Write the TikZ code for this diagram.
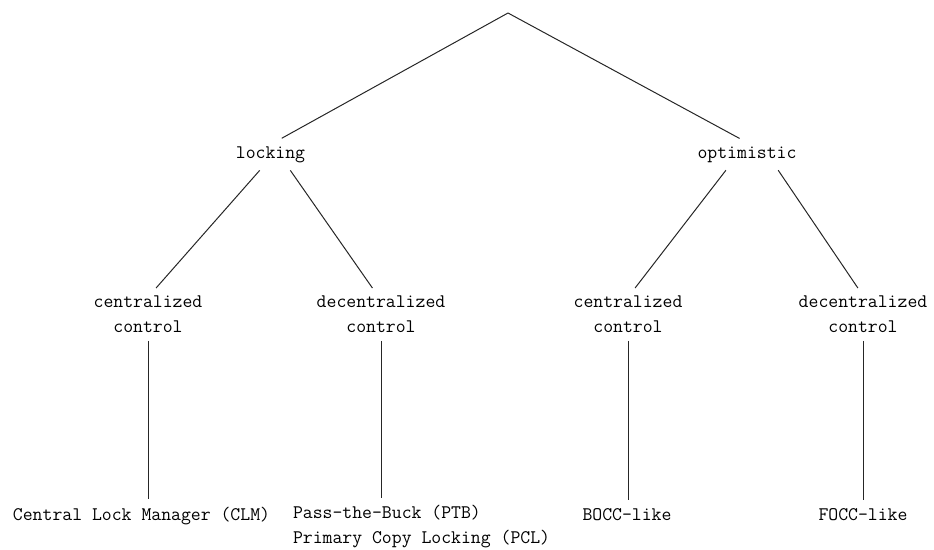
\documentclass[tikz,border=0pt]{standalone}
\usepackage{fontspec}
\tikzset{
  cc@label/.style={font=\ttfamily\fontsize{19.2}{25}\selectfont,
                   inner sep=8pt, outer sep=0pt},
  cc@edge/.style={line width=1pt, black!85},
}

\begin{document}
\begin{tikzpicture}[x=1pt, y=-1pt]
  \useasboundingbox (0,0) rectangle (934,549);
  \coordinate (root) at (508,13);
  \node[cc@label, anchor=base] (locking) at (270.5,158) {locking};
  \node[cc@label, anchor=base] (optim)   at (747,158)   {optimistic};

  \node[cc@label, align=center, anchor=north] (lockcen) at (148,288) {centralized\\control};
  \node[cc@label, align=center, anchor=north] (lockdec) at (381,288) {decentralized\\control};
  \node[cc@label, align=center, anchor=north] (optcen)  at (628,288) {centralized\\control};
  \node[cc@label, align=center, anchor=north] (optdec)  at (863,288) {decentralized\\control};

  \node[cc@label, anchor=base] (clm) at (141.5,520) {Central Lock Manager (CLM)};
  \node[cc@label, align=left, anchor=north west] (ptb) at (285,497.6)
       {Pass-the-Buck (PTB)\\Primary Copy Locking (PCL)};
  \node[cc@label, anchor=base] (bocc) at (627,520) {BOCC-like};
  \node[cc@label, anchor=base] (focc) at (863,520) {FOCC-like};

  \draw[cc@edge] (root) -- (locking.55);
  \draw[cc@edge] (root) -- (optim.115);
  \draw[cc@edge] (locking.-124) -- (lockcen.73);
  \draw[cc@edge] (locking.-39)  -- (lockdec.108);
  \draw[cc@edge] (optim.-143)   -- (optcen.75);
  \draw[cc@edge] (optim.-27)    -- (optdec.101);

  \draw[cc@edge] (lockcen.south) -- (lockcen.south |- clm.north);
  \draw[cc@edge] (lockdec.south) -- (lockdec.south |- ptb.north);
  \draw[cc@edge] (optcen.south)  -- (optcen.south |- bocc.north);
  \draw[cc@edge] (optdec.south)  -- (optdec.south |- focc.north);
\end{tikzpicture}
\end{document}
